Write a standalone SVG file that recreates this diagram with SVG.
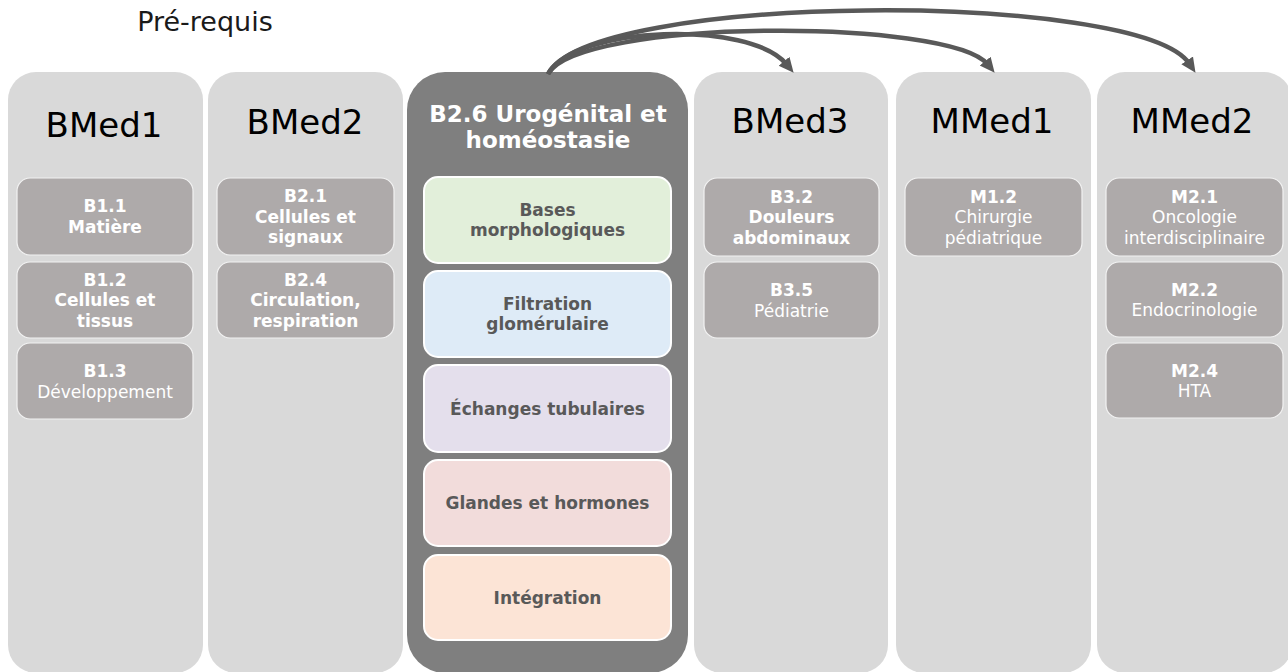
<svg xmlns="http://www.w3.org/2000/svg" width="1288" height="672" viewBox="0 0 1288 672">
<defs>
<style>
.col{fill:#d9d9d9}
.core{fill:#7f7f7f}
.hdr{font-family:"DejaVu Sans","Verdana",sans-serif;font-size:34px;fill:#000;text-anchor:middle}
.ttl{font-family:"DejaVu Sans","Verdana",sans-serif;font-size:23px;font-weight:bold;fill:#fff;text-anchor:middle}
.box{fill:#aeaaaa;stroke:#f2f2f2;stroke-width:1.2}
.bt{font-family:"DejaVu Sans","Verdana",sans-serif;font-size:17px;fill:#fff;text-anchor:middle}
.b{font-weight:bold}
.sub{stroke:#fff;stroke-width:2}
.st{font-family:"DejaVu Sans","Verdana",sans-serif;font-size:17px;font-weight:bold;fill:#595959;text-anchor:middle}
.conn{fill:none;stroke:#595959;stroke-width:4.5}
</style>
<marker id="ah" markerUnits="userSpaceOnUse" markerWidth="18" markerHeight="18" refX="4" refY="8" orient="auto">
<path d="M0,1 L15,8 L0,15 z" fill="#595959"/>
</marker>
</defs>
<rect width="1288" height="672" fill="#fff"/>
<text x="205" y="31" font-family="DejaVu Sans, Verdana, sans-serif" font-size="27" fill="#1a1a1a" text-anchor="middle">Pré-requis</text>

<g id="BMed1">
<rect class="col" x="8" y="72" width="195" height="601" rx="28"/>
<text class="hdr" x="104" y="137">BMed1</text>
<g id="B1.1"><rect class="box" x="17" y="178" width="176" height="77" rx="13"/>
<text class="bt b"><tspan x="105" y="212">B1.1</tspan><tspan x="105" y="232.5">Matière</tspan></text></g>
<g id="B1.2"><rect class="box" x="17" y="262" width="176" height="76" rx="13"/>
<text class="bt b"><tspan x="105" y="285.5">B1.2</tspan><tspan x="105" y="306">Cellules et</tspan><tspan x="105" y="326.5">tissus</tspan></text></g>
<g id="B1.3"><rect class="box" x="17" y="343" width="176" height="76" rx="13"/>
<text class="bt"><tspan class="b" x="105" y="377">B1.3</tspan><tspan x="105" y="397.5">Développement</tspan></text></g>
</g>

<g id="BMed2">
<rect class="col" x="208" y="72" width="195" height="601" rx="28"/>
<text class="hdr" x="305" y="134">BMed2</text>
<g id="B2.1"><rect class="box" x="217" y="178" width="177" height="77" rx="13"/>
<text class="bt b"><tspan x="305.5" y="202">B2.1</tspan><tspan x="305.5" y="222.5">Cellules et</tspan><tspan x="305.5" y="243">signaux</tspan></text></g>
<g id="B2.4"><rect class="box" x="217" y="262" width="177" height="76" rx="13"/>
<text class="bt b"><tspan x="305.5" y="285.5">B2.4</tspan><tspan x="305.5" y="306">Circulation,</tspan><tspan x="305.5" y="326.5">respiration</tspan></text></g>
</g>

<g id="B2.6">
<rect class="core" x="407" y="72" width="281" height="601" rx="38"/>
<text class="ttl"><tspan x="548" y="122">B2.6 Urogénital et</tspan><tspan x="548" y="148">homéostasie</tspan></text>
<g id="bases"><rect class="sub" x="424" y="177" width="247" height="86" rx="14" fill="#e2efda"/>
<text class="st"><tspan x="547.5" y="215.5">Bases</tspan><tspan x="547.5" y="236">morphologiques</tspan></text></g>
<g id="filtration"><rect class="sub" x="424" y="271" width="247" height="86" rx="14" fill="#deebf7"/>
<text class="st"><tspan x="547.5" y="309.5">Filtration</tspan><tspan x="547.5" y="330">glomérulaire</tspan></text></g>
<g id="echanges"><rect class="sub" x="424" y="365" width="247" height="87" rx="14" fill="#e4dfec"/>
<text class="st" x="547.5" y="414.5">Échanges tubulaires</text></g>
<g id="glandes"><rect class="sub" x="424" y="460" width="247" height="86" rx="14" fill="#f2dcdb"/>
<text class="st" x="547.5" y="509">Glandes et hormones</text></g>
<g id="integration"><rect class="sub" x="424" y="555" width="247" height="85" rx="14" fill="#fce4d6"/>
<text class="st" x="547.5" y="603.5">Intégration</text></g>
</g>

<g id="BMed3">
<rect class="col" x="694" y="72" width="194" height="601" rx="28"/>
<text class="hdr" x="790" y="133">BMed3</text>
<g id="B3.2"><rect class="box" x="704" y="178" width="175" height="78" rx="13"/>
<text class="bt b"><tspan x="791.5" y="202.5">B3.2</tspan><tspan x="791.5" y="223">Douleurs</tspan><tspan x="791.5" y="243.5">abdominaux</tspan></text></g>
<g id="B3.5"><rect class="box" x="704" y="262" width="175" height="76" rx="13"/>
<text class="bt"><tspan class="b" x="791.5" y="296">B3.5</tspan><tspan x="791.5" y="316.5">Pédiatrie</tspan></text></g>
</g>

<g id="MMed1">
<rect class="col" x="896" y="72" width="195" height="601" rx="28"/>
<text class="hdr" x="992" y="133">MMed1</text>
<g id="M1.2"><rect class="box" x="905" y="178" width="177" height="78" rx="13"/>
<text class="bt"><tspan class="b" x="993.5" y="202.5">M1.2</tspan><tspan x="993.5" y="223">Chirurgie</tspan><tspan x="993.5" y="243.5">pédiatrique</tspan></text></g>
</g>

<g id="MMed2">
<rect class="col" x="1097" y="72" width="195" height="601" rx="28"/>
<text class="hdr" x="1192" y="133">MMed2</text>
<g id="M2.1"><rect class="box" x="1106" y="178" width="177" height="78" rx="13"/>
<text class="bt"><tspan class="b" x="1194.5" y="202.5">M2.1</tspan><tspan x="1194.5" y="223">Oncologie</tspan><tspan x="1194.5" y="243.5">interdisciplinaire</tspan></text></g>
<g id="M2.2"><rect class="box" x="1106" y="262" width="177" height="75" rx="13"/>
<text class="bt"><tspan class="b" x="1194.5" y="295.5">M2.2</tspan><tspan x="1194.5" y="316">Endocrinologie</tspan></text></g>
<g id="M2.4"><rect class="box" x="1106" y="343" width="177" height="75" rx="13"/>
<text class="bt"><tspan class="b" x="1194.5" y="376.5">M2.4</tspan><tspan x="1194.5" y="397">HTA</tspan></text></g>
</g>

<g id="connectors">
<path class="conn" marker-end="url(#ah)" d="M548,74 C575,25 750,20 786.6,64.3"/>
<path class="conn" marker-end="url(#ah)" d="M548,74 C580,18 950,18 987.7,64.3"/>
<path class="conn" marker-end="url(#ah)" d="M548,74 C590,-8 1140,-10 1189.4,63.7"/>
</g>
</svg>
